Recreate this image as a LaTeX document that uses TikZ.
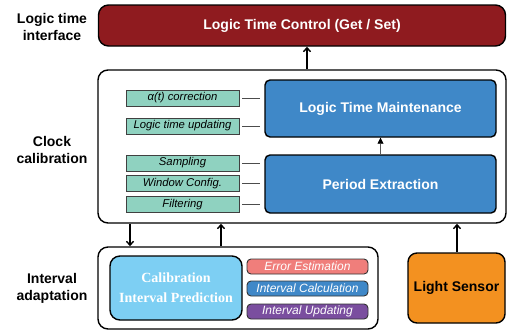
\documentclass[tikz,border=0pt]{standalone}
\usepackage{fontspec}
\setmainfont{Liberation Sans}
\newfontfamily\serifface{Liberation Serif}
\usetikzlibrary{arrows.meta}
\definecolor{cred}{HTML}{8F1B1F}
\definecolor{cblue}{HTML}{3F88C8}
\definecolor{cgreen}{HTML}{8FD2C0}
\definecolor{clight}{HTML}{7DCFF3}
\definecolor{cpink}{HTML}{F07E7B}
\definecolor{cpurple}{HTML}{7A4E9F}
\definecolor{corange}{HTML}{F39120}
\begin{document}
\begin{tikzpicture}[x=1pt,y=-1pt,
  box/.style={draw=black,line width=1.4pt,rectangle,inner sep=0pt,anchor=center},
  container/.style={box,fill=white,rounded corners=10pt},
  bluebox/.style={box,fill=cblue,rounded corners=5pt,text=white,font=\fontsize{14}{16}\selectfont\bfseries,minimum width=231pt},
  greenbox/.style={draw=black!75,line width=0.7pt,fill=cgreen,rectangle,inner sep=0pt,minimum width=113pt,minimum height=16pt,font=\fontsize{11.3}{13}\selectfont\itshape},
  smallbox/.style={draw=black!80,line width=0.9pt,rounded corners=4pt,rectangle,inner sep=0pt,minimum width=121pt,minimum height=15pt,text=white,font=\fontsize{12}{14}\selectfont\itshape},
  sidelabel/.style={align=center,font=\fontsize{14}{17}\selectfont\bfseries},
  arr/.style={line width=1.4pt,-{Straight Barb[length=4pt,width=7pt]}},
  stub/.style={draw=black!70,line width=0.7pt,shorten <=3pt,shorten >=4pt},
]
\useasboundingbox (0,0) rectangle (508,333);
% left labels
\node[sidelabel] (l1) at (52,27) {Logic time\\interface};
\node[sidelabel] (l2) at (52,150) {Clock\\calibration};
\node[sidelabel] (l3) at (52,288) {Interval\\adaptation};
% top
\node[box,fill=cred,rounded corners=10pt,minimum width=407pt,minimum height=41pt,text=white,font=\fontsize{14}{16}\selectfont\bfseries] (ltc) at (302,25.5) {Logic Time Control (Get / Set)};
% clock calibration container
\node[container,minimum width=408pt,minimum height=153pt] (clock) at (302,146.5) {};
\node[bluebox,minimum height=57pt] (ltm) at (380.5,108.5) {Logic Time Maintenance};
\node[bluebox,minimum height=58pt] (pe) at (380.5,184) {Period Extraction};
\node[greenbox] (g1) at (182.5,98) {α(t) correction};
\node[greenbox] (g2) at (182.5,126) {Logic time updating};
\node[greenbox] (g3) at (182.5,163) {Sampling};
\node[greenbox] (g4) at (182.5,183.5) {Window Config.};
\node[greenbox] (g5) at (182.5,204.5) {Filtering};
\foreach \g/\t in {g1/ltm,g2/ltm,g3/pe,g4/pe,g5/pe}
  \draw[stub] (\g.east) -- (\g.east -| \t.west);
\draw[draw=black!65,line width=0.8pt,-{Triangle[length=6pt,width=6pt,black]}] (pe.north) -- (ltm.south);
% interval adaptation container
\node[container,minimum width=280pt,minimum height=82pt] (iv) at (238,288) {};
\node[box,fill=clight,rounded corners=10pt,minimum width=132pt,minimum height=64pt,align=center,text=white,font=\serifface\fontsize{14}{20}\selectfont\bfseries] (cip) at (176,288) {Calibration\\Interval Prediction};
\node[smallbox,fill=cpink] (s1) at (307.5,266.5) {Error Estimation};
\node[smallbox,fill=cblue] (s2) at (307.5,288.5) {Interval Calculation};
\node[smallbox,fill=cpurple] (s3) at (307.5,311.5) {Interval Updating};
% light sensor
\node[box,fill=corange,rounded corners=9pt,minimum width=97pt,minimum height=70pt,font=\fontsize{14}{16}\selectfont\bfseries] (ls) at (456.5,288) {Light Sensor};
% arrows
\coordinate (xa) at (307,0);
\coordinate (xb) at (130,0);
\coordinate (xc) at (221,0);
\coordinate (xd) at (457,0);
\draw[arr] (clock.north -| xa) -- (ltc.south -| xa);
\draw[arr] (clock.south -| xb) -- (iv.north -| xb);
\draw[arr] (iv.north -| xc) -- (clock.south -| xc);
\draw[arr] (ls.north -| xd) -- (clock.south -| xd);
\end{tikzpicture}
\end{document}
